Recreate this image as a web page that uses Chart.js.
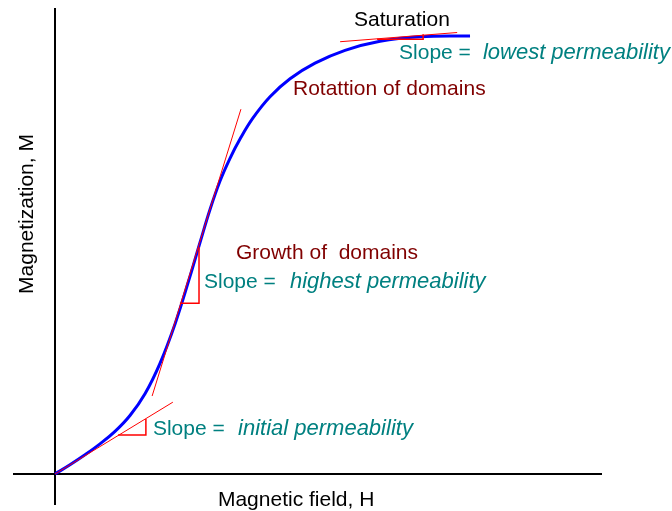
<!DOCTYPE html>
<html>
<head>
<meta charset="utf-8">
<script src="https://cdn.jsdelivr.net/npm/chart.js@4.4.1/dist/chart.umd.min.js"></script>
<style>
  html, body { margin: 0; padding: 0; background: #fff; }
  #wrap { width: 672px; height: 511px; }
</style>
</head>
<body>
<div id="wrap"><canvas id="myChart" width="672" height="511"></canvas></div>
<script>
// magnetization curve, H and M in arbitrary units (M normalised to saturation)
const curveH = [0, 0.361, 0.723, 1.084, 1.446, 1.807, 2.169, 2.53, 2.892, 3.253, 3.494, 3.735, 3.976, 4.217, 4.458, 4.771, 5.181, 5.663, 6.265, 6.988, 7.831, 8.795, 10.0];
const curveM = [0, 0.021, 0.0438, 0.0687, 0.0973, 0.1336, 0.1833, 0.2527, 0.3427, 0.4514, 0.5285, 0.6039, 0.6689, 0.7208, 0.7648, 0.813, 0.8614, 0.9025, 0.9381, 0.9674, 0.9881, 0.9982, 1.0];

// tangent lines
const initialTanH = [0, 2.84];
const initialTanM = [0, 0.164];
const highestTanH = [2.34, 4.48];
const highestTanM = [0.178, 0.833];
const lowestTanH = [6.87, 9.69];
const lowestTanM = [0.987, 1.008];

// slope triangles (start on tangent, corner, back up to tangent)
const initialTriH = [1.52, 2.19, 2.19];
const initialTriM = [0.089, 0.089, 0.1256];
const highestTriH = [3.01, 3.47, 3.47];
const highestTriM = [0.39, 0.39, 0.518];
const lowestTriH = [7.76, 8.87, 8.87];
const lowestTriM = [0.9925, 0.9925, 1.004];

const xTitle = 'Magnetic field, H';
const yTitle = 'Magnetization, M';

const toPoints = (hs, ms) => hs.map((h, i) => ({ x: h, y: ms[i] }));

const TEAL = '#008080';
const DARKRED = '#800000';
const RED = '#ff0000';

// text annotations placed in data coordinates
const labels = [
  { text: 'Saturation', h: 8.36, m: 1.0228, color: '#000', align: 'center' },
  { text: 'Slope =', h: 8.29, m: 0.9475, color: TEAL },
  { text: 'lowest permeability', h: 10.31, m: 0.9475, color: TEAL, italic: true },
  { text: 'Rotattion of domains', h: 5.735, m: 0.8653, color: DARKRED },
  { text: 'Growth of  domains', h: 4.36, m: 0.4909, color: DARKRED },
  { text: 'Slope =', h: 3.59, m: 0.4247, color: TEAL },
  { text: 'highest permeability', h: 5.66, m: 0.4247, color: TEAL, italic: true },
  { text: 'Slope =', h: 2.36, m: 0.089, color: TEAL },
  { text: 'initial permeability', h: 4.41, m: 0.089, color: TEAL, italic: true },
  { text: xTitle, h: 5.81, m: -0.0731, color: '#000', align: 'center' },
  { text: yTitle, h: -0.53, m: 0.5936, color: '#000', align: 'center', rotate: true },
];

const labelPlugin = {
  id: 'labelPlugin',
  afterDatasetsDraw(chart) {
    const { ctx, scales } = chart;
    ctx.save();
    labels.forEach((item) => {
      const x = scales.x.getPixelForValue(item.h);
      const y = scales.y.getPixelForValue(item.m);
      ctx.font = item.italic ? 'italic 22px "Liberation Sans", Arial, sans-serif' : '21px "Liberation Sans", Arial, sans-serif';
      ctx.fillStyle = item.color;
      ctx.textAlign = item.align || 'left';
      ctx.textBaseline = 'alphabetic';
      if (item.rotate) {
        ctx.save();
        ctx.translate(x, y);
        ctx.rotate(-Math.PI / 2);
        ctx.fillText(item.text, 0, 0);
        ctx.restore();
      } else {
        ctx.fillText(item.text, x, y);
      }
    });
    ctx.restore();
  },
};

const redLine = (hs, ms, width) => ({
  data: toPoints(hs, ms),
  borderColor: RED,
  borderWidth: width,
  pointRadius: 0,
  tension: 0,
  fill: false,
});

const zeroOnly = (axis) => { axis.ticks = [{ value: 0 }]; };

new Chart(document.getElementById('myChart'), {
  type: 'line',
  data: {
    datasets: [
      redLine(initialTanH, initialTanM, 1),
      redLine(highestTanH, highestTanM, 1),
      redLine(lowestTanH, lowestTanM, 1),
      redLine(initialTriH, initialTriM, 1.5),
      redLine(highestTriH, highestTriM, 1.5),
      redLine(lowestTriH, lowestTriM, 1.5),
      {
        data: toPoints(curveH, curveM),
        borderColor: '#0000ff',
        borderWidth: 3,
        pointRadius: 0,
        tension: 0.4,
        fill: false,
      },
    ],
  },
  options: {
    responsive: false,
    animation: false,
    layout: { padding: { left: 13, right: 70, top: 8, bottom: 6 } },
    plugins: { legend: { display: false }, tooltip: { enabled: false } },
    scales: {
      x: {
        type: 'linear',
        min: -1.012,
        max: 13.18,
        afterBuildTicks: zeroOnly,
        ticks: { display: false },
        border: { display: false },
        grid: { color: '#000', lineWidth: 2, drawTicks: false },
      },
      y: {
        type: 'linear',
        min: -0.0708,
        max: 1.064,
        afterBuildTicks: zeroOnly,
        ticks: { display: false },
        border: { display: false },
        grid: { color: '#000', lineWidth: 2, drawTicks: false },
      },
    },
  },
  plugins: [labelPlugin],
});
</script>
</body>
</html>
